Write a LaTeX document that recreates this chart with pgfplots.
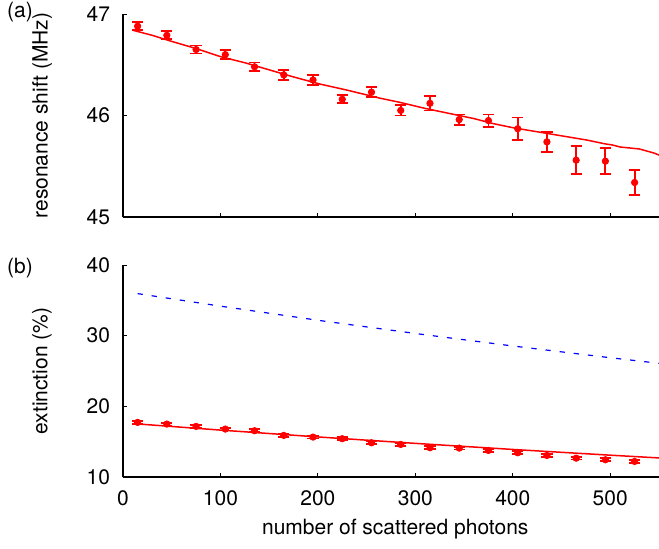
\documentclass[border=0pt]{standalone}
\usepackage{pgfplots}
\pgfplotsset{compat=1.18}
\usepackage{pgfplotstable}
\usepackage{fontspec}
\setmainfont{TeX Gyre Heros}

\pgfplotstableread{
x y e
15 46.88 0.04
45 46.79 0.04
75 46.65 0.04
105 46.60 0.045
135 46.48 0.043
165 46.40 0.05
195 46.35 0.05
225 46.16 0.04
255 46.23 0.05
285 46.05 0.05
315 46.12 0.07
345 45.96 0.05
375 45.95 0.06
405 45.87 0.11
435 45.74 0.10
465 45.56 0.14
495 45.55 0.13
525 45.34 0.12
}\shiftdata

\pgfplotstableread{
x y e
15 17.73 0.2
45 17.49 0.2
75 17.16 0.2
105 16.78 0.2
135 16.55 0.2
165 15.89 0.2
195 15.65 0.2
225 15.42 0.2
255 14.85 0.2
285 14.61 0.2
315 14.14 0.2
345 14.09 0.2
375 13.76 0.2
405 13.43 0.2
435 13.05 0.2
465 12.67 0.2
495 12.44 0.2
525 12.20 0.2
}\extdata

\begin{document}
\begin{tikzpicture}
\pgfplotsset{
  panel/.style={
    scale only axis, width=268pt,
    xmin=0, xmax=550,
    axis lines=left, axis line style={-, line width=0.6pt},
    tick align=inside, major tick length=2.2pt,
    tick style={black, line width=0.5pt},
    xtick={0,100,...,500},
    font=\fontsize{10.5}{12.6}\selectfont,
    /pgf/number format/assume math mode=true,
    yticklabel style={xshift=-3pt},
    xticklabel style={yshift=-3.5pt},
    clip=false,
  },
  errpts/.style={red, only marks, mark=*, mark size=1.6pt,
    mark options={solid, draw=red, fill=red},
    error bars/y dir=both, error bars/y explicit,
    error bars/error bar style={solid, red, line width=0.9pt},
    error bars/error mark options={solid, red, line width=0.9pt, mark size=2.8pt, rotate=90}},
}
\begin{axis}[panel, name=top, at={(0,0)}, anchor=north west,
  height=101.5pt, ymin=45, ymax=47, ytick={45,46,47},
  xticklabels={},
  ylabel={resonance shift (MHz)},
  ylabel style={at={(axis description cs:-0.151,0.5)}, anchor=center}]
\addplot[red, line width=0.75pt] coordinates {
  (10,46.84) (30,46.79) (50,46.73) (75,46.66) (100,46.58) (125,46.52)
  (150,46.45) (175,46.38) (202,46.31) (230,46.25) (264,46.17) (284,46.13)
  (310,46.07) (330,46.03) (360,45.97) (380,45.92) (400,45.88) (425,45.84)
  (450,45.80) (475,45.76) (495,45.72) (502,45.71) (510,45.69) (530,45.67)
  (545,45.63) (550,45.61)};
\addplot[errpts] table[x=x, y=y, y error=e] {\shiftdata};
\end{axis}

\begin{axis}[panel, name=bot, at={(0,-125.5pt)}, anchor=north west,
  height=106pt, ymin=10, ymax=40, ytick={10,20,30,40},
  xlabel={number of scattered photons},
  xlabel style={at={(axis description cs:0.508,-0.245)}, anchor=center},
  ylabel={extinction (\%)},
  ylabel style={at={(axis description cs:-0.151,0.5)}, anchor=center}]
\addplot[blue, line width=0.6pt, dash pattern=on 2.6pt off 4.5pt] coordinates {
  (15,35.95) (100,34.18) (200,32.18) (300,30.31) (400,28.54) (500,26.88) (550,26.09)};
\addplot[red, line width=0.75pt] coordinates {
  (10,17.56) (100,16.64) (200,15.67) (300,14.76) (400,13.90) (500,13.09) (550,12.70)};
\addplot[errpts] table[x=x, y=y, y error=e] {\extdata};
\end{axis}

\node[font=\fontsize{10.5}{12.6}\selectfont] at (-51.5pt,1pt) {(a)};
\node[font=\fontsize{10.5}{12.6}\selectfont] at (-51.5pt,-127.25pt) {(b)};

\pgfresetboundingbox
\path[use as bounding box] (-61.5pt,7pt) rectangle (268pt,-267pt);
\end{tikzpicture}
\end{document}
